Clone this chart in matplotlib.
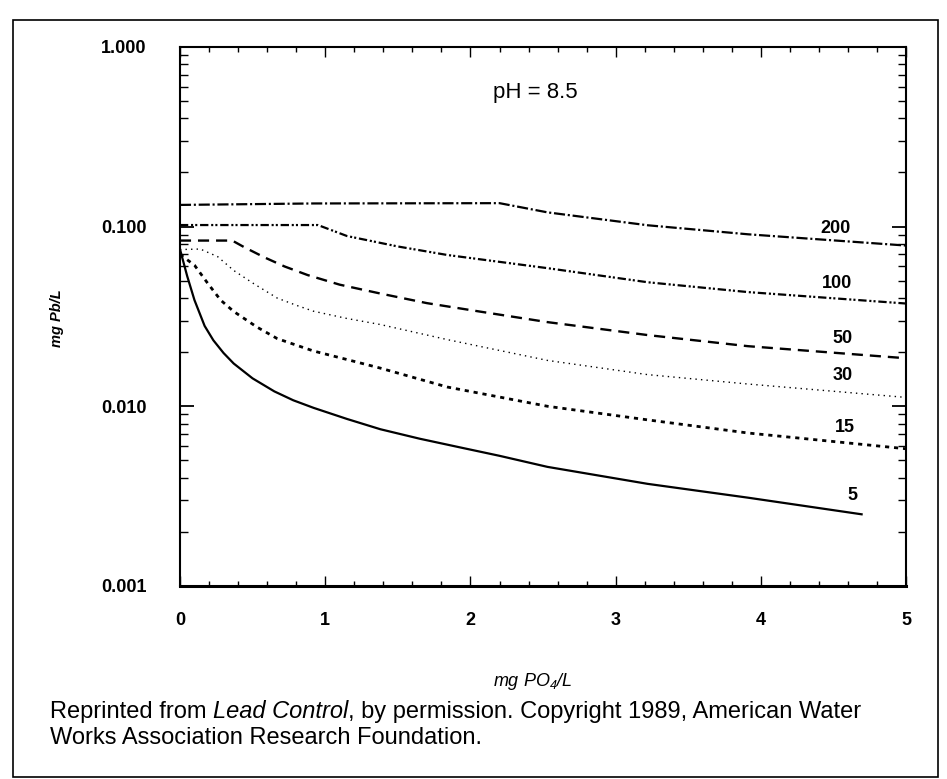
import matplotlib
matplotlib.use("Agg")
import matplotlib.pyplot as plt
from matplotlib.ticker import LogLocator, MultipleLocator, NullFormatter
from matplotlib.patches import Rectangle

# lead solubility vs orthophosphate, pH 8.5, one curve per DIC (mg C/L)
x_5 = [0, 0.05, 0.10, 0.17, 0.23, 0.30, 0.37, 0.50, 0.65, 0.78, 0.92, 1.15, 1.38, 1.65,
       1.93, 2.20, 2.53, 3.22, 3.91, 4.70]
y_5 = [0.075, 0.053, 0.039, 0.028, 0.0233, 0.0198, 0.0173, 0.0143, 0.0121, 0.0108, 0.0098,
       0.0085, 0.00745, 0.0066, 0.0059, 0.0053, 0.0046, 0.0037, 0.0031, 0.0025]

x_15 = [0, 0.10, 0.19, 0.28, 0.37, 0.53, 0.67, 0.80, 0.92, 1.15, 1.38, 1.84, 2.53, 3.22, 3.91, 5.0]
y_15 = [0.070, 0.061, 0.0485, 0.039, 0.0337, 0.0276, 0.0238, 0.0219, 0.0203, 0.0182, 0.0163,
        0.0128, 0.0100, 0.0084, 0.0071, 0.0058]

x_30 = [0, 0.14, 0.26, 0.37, 0.51, 0.67, 0.80, 0.92, 1.15, 1.38, 1.84, 2.53, 3.22, 3.91, 5.0]
y_30 = [0.0745, 0.075, 0.068, 0.057, 0.048, 0.040, 0.0365, 0.0338, 0.0308, 0.0285, 0.0235,
        0.0180, 0.0150, 0.0133, 0.0112]

x_50 = [0, 0.36, 0.44, 0.58, 0.72, 0.88, 1.10, 1.38, 1.70, 2.07, 2.53, 3.22, 3.91, 5.0]
y_50 = [0.0836, 0.0836, 0.077, 0.0675, 0.0600, 0.0537, 0.0475, 0.0424, 0.0375, 0.0336,
        0.0294, 0.0249, 0.0216, 0.0185]

x_100 = [0, 0.95, 1.15, 1.50, 1.84, 2.53, 3.22, 3.91, 5.0]
y_100 = [0.102, 0.102, 0.0886, 0.0775, 0.0695, 0.0587, 0.049, 0.0432, 0.0373]

x_200 = [0, 0.92, 2.20, 2.53, 3.22, 3.91, 5.0]
y_200 = [0.132, 0.1345, 0.135, 0.120, 0.1017, 0.0906, 0.0784]

curve_names = ["5", "15", "30", "50", "100", "200"]

x_ticks = [0, 1, 2, 3, 4, 5]
x_tick_labels = ["0", "1", "2", "3", "4", "5"]
y_ticks = [0.001, 0.01, 0.1, 1.0]
y_tick_labels = ["0.001", "0.010", "0.100", "1.000"]

caption_1 = ["Reprinted from ", "Lead Control", ", by permission. Copyright 1989, American Water"]
caption_2 = "Works Association Research Foundation."

plt.rcParams["font.family"] = ["Liberation Sans", "DejaVu Sans"]
plt.rcParams["lines.scale_dashes"] = False
plt.rcParams["mathtext.fontset"] = "custom"
plt.rcParams["mathtext.rm"] = "Liberation Sans:italic"
plt.rcParams["mathtext.it"] = "Liberation Sans:italic"

fig = plt.figure(figsize=(9.47, 7.79), dpi=100)
ax = fig.add_axes([0.190, 0.2478, 0.767, 0.692])

curves = [(x_5, y_5), (x_15, y_15), (x_30, y_30), (x_50, y_50), (x_100, y_100), (x_200, y_200)]
styles = [
    dict(lw=1.6, linestyle="-"),
    dict(lw=2.0, linestyle=(0, (3, 3.5))),
    dict(lw=1.0, linestyle=(0, (1, 3))),
    dict(lw=1.7, linestyle=(0, (8, 5))),
    dict(lw=1.6, linestyle=(0, (6, 2, 1.5, 1.5, 1.5, 2))),
    dict(lw=1.6, linestyle=(0, (8, 2, 1.5, 2))),
]
for (xs, ys), st in zip(curves, styles):
    ax.plot(xs, ys, color="black", solid_capstyle="butt", **st)

# curve labels near the right end
label_xy = [(4.63, 0.0032), (4.58, 0.0076), (4.56, 0.0148), (4.56, 0.0237), (4.52, 0.048), (4.51, 0.097)]
for name, (lx, ly) in zip(curve_names, label_xy):
    ax.text(lx, ly, name, ha="center", va="center", fontsize=13, fontweight="bold")

ax.text(0.489, 0.915, "pH = 8.5", transform=ax.transAxes, ha="center", va="center", fontsize=16)

ax.set_yscale("log")
ax.set_xlim(0, 5)
ax.set_ylim(0.001, 1.0)
ax.set_xticks(x_ticks, x_tick_labels)
ax.set_yticks(y_ticks, y_tick_labels)
ax.yaxis.set_minor_locator(LogLocator(base=10, subs=range(2, 10)))
ax.yaxis.set_minor_formatter(NullFormatter())
ax.xaxis.set_minor_locator(MultipleLocator(0.2))

ax.tick_params(which="both", direction="in", top=True, right=True)
ax.tick_params(axis="y", which="major", length=10, width=1.3, pad=24)
ax.tick_params(axis="y", which="minor", length=5.5, width=1.0)
ax.tick_params(axis="x", which="major", length=7, width=1.0, pad=19)
ax.tick_params(axis="x", which="minor", length=3.5, width=1.0)
for lab in ax.get_xticklabels() + ax.get_yticklabels():
    lab.set_fontweight("bold")
    lab.set_fontsize(13)
for sp in ax.spines.values():
    sp.set_linewidth(1.5)
ax.spines["bottom"].set_linewidth(2.2)

fig.text(0.060, 1 - 318 / 779, "mg Pb/L", rotation=90, ha="center", va="center",
         fontsize=10.5, fontweight="bold", style="italic")
fig.text(0.563, 1 - 681 / 779, r"mg PO$_4$/L", ha="center", va="center",
         fontsize=13, style="italic")

# caption, pieces laid end to end on one baseline (title in italics)
cap_size = 17
renderer = fig.canvas.get_renderer()
x_px = 50
base_1 = 1 - 718 / 779
for i, piece in enumerate(caption_1):
    t = fig.text(x_px / 947, base_1, piece, fontsize=cap_size, ha="left", va="baseline",
                 style="italic" if i == 1 else "normal")
    x_px = t.get_window_extent(renderer).x1
fig.text(50 / 947, 1 - 744 / 779, caption_2, fontsize=cap_size, ha="left", va="baseline")

# scanned page frame
fig.patches.append(Rectangle((13 / 947, 1 - 777 / 779), 925 / 947, 757 / 779,
                             transform=fig.transFigure, fill=False, lw=1.2, color="black"))

fig.savefig("out.png", dpi=100)
